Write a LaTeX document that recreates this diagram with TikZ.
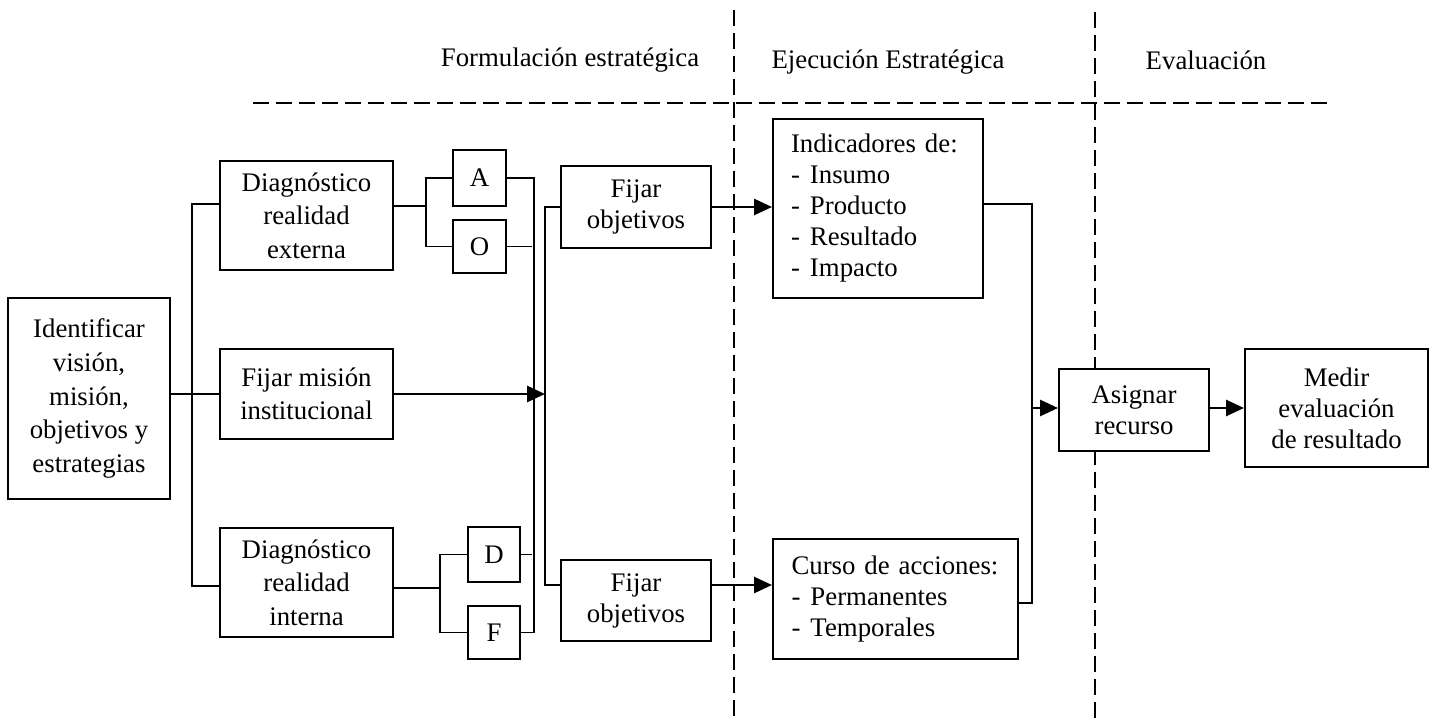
\documentclass[tikz,border=0pt]{standalone}
\usepackage{fontspec}
\setmainfont{Liberation Serif}
\usetikzlibrary{arrows.meta,calc}
\newcommand{\itm}[1]{\mbox{\makebox[9.5pt][l]{-}#1}}
\begin{document}
\begin{tikzpicture}[x=0.5pt,y=-0.5pt,
  box/.style={draw,line width=1pt,fill=white,inner sep=0pt,align=center,
    font=\fontsize{13.4}{15.5}\selectfont},
  tallbox/.style={box,font=\fontsize{13.4}{16.8}\selectfont},
  conn/.style={line width=0.9pt},
  arr/.style={line width=1.4pt,-{Triangle[length=9pt,width=8pt]}},
  dsh/.style={line width=0.9pt,dash pattern=on 8pt off 3.5pt},
  ttl/.style={font=\fontsize{13.4}{15.5}\selectfont,inner sep=0pt}]
\useasboundingbox (0,0) rectangle (1434,722);
% dashed phase separators
\draw[dsh] (734,10) -- (734,722);
\draw[dsh] (1095,12) -- (1095,722);
\draw[dsh] (253,103) -- (1330,103);
% titles
\node[ttl] (t1) at (570,60) {Formulación estratégica};
\node[ttl] (t2) at (888,62) {Ejecución Estratégica};
\node[ttl] (t3) at (1206,60) {Evaluación};
% boxes
\node[tallbox,minimum width=81pt,minimum height=100.5pt] (ident) at (89,398.5)
  {Identificar\\visión,\\misión,\\objetivos y\\estrategias};
\node[tallbox,minimum width=86.5pt,minimum height=54.5pt] (dext) at (306.5,215.5)
  {Diagnóstico\\realidad\\externa};
\node[tallbox,minimum width=86.5pt,minimum height=45pt] (fmis) at (306.5,394)
  {Fijar misión\\institucional};
\node[tallbox,minimum width=86.5pt,minimum height=54.5pt] (dint) at (306.5,582.5)
  {Diagnóstico\\realidad\\interna};
\node[box,minimum width=26.5pt,minimum height=28pt] (A) at (479.5,178) {A};
\node[box,minimum width=26.5pt,minimum height=26.5pt] (O) at (479.5,246.5) {O};
\node[box,minimum width=26pt,minimum height=27.5pt] (D) at (494,554.5) {D};
\node[box,minimum width=26pt,minimum height=26.5pt] (F) at (494,632.5) {F};
\node[box,minimum width=75pt,minimum height=41pt] (fo1) at (636,207) {Fijar\\objetivos};
\node[box,minimum width=75pt,minimum height=40.5pt] (fo2) at (636,600.5) {Fijar\\objetivos};
\node[box,align=left,text width=87pt,inner xsep=9pt,minimum height=89.5pt] (ind) at (878,208.5)
  {\mbox{Indicadores de:}\\\itm{Insumo}\\\itm{Producto}\\\itm{Resultado}\\\itm{Impacto}};
\node[box,align=left,text width=104pt,inner xsep=9.25pt,minimum height=60pt] (curso) at (895.5,599)
  {\mbox{Curso de acciones:}\\\itm{Permanentes}\\\itm{Temporales}};
\node[box,minimum width=75pt,minimum height=41pt] (asig) at (1134,410) {Asignar\\recurso};
\node[box,minimum width=91.5pt,minimum height=59pt] (medir) at (1336.5,408) {Medir\\evaluación\\de resultado};
% bus coordinates
\coordinate (b1t) at (192,204);
\coordinate (b1b) at (192,586);
\coordinate (ka) at (426,206);
\coordinate (kd) at (440,588);
\coordinate (c1) at (534,178);
\coordinate (c2t) at (545,207);
\coordinate (c2b) at (545,585);
\coordinate (c3t) at (1032,204);
\coordinate (c3b) at (1032,603);
\coordinate (am) at (1150,408);
% connectors left
\draw[conn] (ident.east |- fmis.west) -- (fmis.west);
\draw[conn] (dext.west |- b1t) -- (b1t) -- (b1b) -- (dint.west |- b1b);
\draw[conn] (dext.east |- ka) -- (ka);
\draw[conn] (A.west) -| (ka) |- (O.west);
\draw[conn] (dint.east |- kd) -- (kd);
\draw[conn] (D.west) -| (kd) |- (F.west);
\draw[conn] (A.east) -- (A.east -| c1) -- (c1 |- F.east) -- (F.east);
\draw[conn] (O.east) -- ([xshift=-1pt]O.east -| c1);
\draw[conn] (D.east) -- ([xshift=-1pt]D.east -| c1);
\draw[arr] (fmis.east) -- (fmis.east -| c2t);
\draw[conn] (fo1.west) -- (fo1.west -| c2t) -- (c2b) -- (fo2.west |- c2b);
% middle
\draw[arr] (fo1.east) -- (fo1.east -| ind.west);
\draw[arr] (fo2.east |- c2b) -- (curso.west |- c2b);
\draw[conn] (ind.east |- c3t) -- (c3t) -- (c3b) -- (curso.east |- c3b);
\draw[arr] (c3t |- am) -- (asig.west |- am);
\draw[arr] (asig.east |- am) -- (medir.west |- am);
\end{tikzpicture}
\end{document}
